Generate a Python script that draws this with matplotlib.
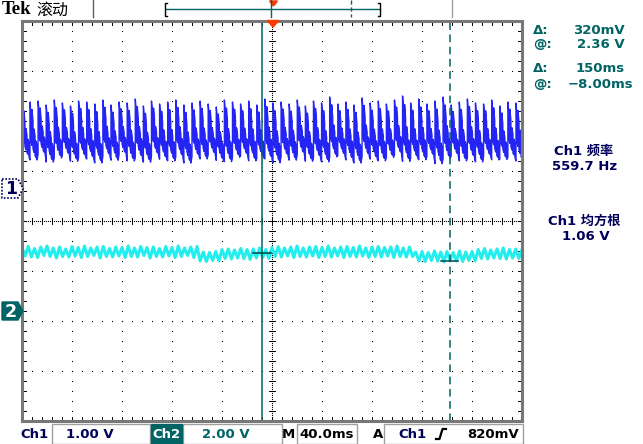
import numpy as np
import matplotlib.pyplot as plt
from matplotlib.patches import Polygon, Rectangle

W, H = 643, 444

# Ch1 (blue): one sawtooth per tooth, peak and floor of each tooth in volts
ch1_peak = [1.70, 1.74, 1.76, 1.68, 1.78, 1.72, 1.66, 1.76, 1.74, 1.70, 1.78, 1.68,
            1.74, 1.72, 1.80, 1.66, 1.76, 1.70, 1.74, 1.78, 1.68, 1.72, 1.76, 1.70,
            1.64, 1.78, 1.74, 1.70, 1.76, 1.68, 1.80, 1.72, 1.74, 1.70, 1.78, 1.66,
            1.76, 1.72, 1.84, 1.70, 1.74, 1.68, 1.82, 1.72, 1.76, 1.70, 1.78, 1.86,
            1.72, 1.80, 1.70, 1.76, 1.84, 1.68, 1.74, 1.80, 1.72, 1.70, 1.78, 1.66,
            1.74, 1.72, 1.70]
ch1_floor = [0.56, 0.48, 0.60, 0.44, 0.52, 0.58, 0.46, 0.54, 0.50, 0.42, 0.56, 0.48,
             0.60, 0.46, 0.52, 0.44, 0.58, 0.50, 0.46, 0.54, 0.42, 0.56, 0.50, 0.60,
             0.48, 0.44, 0.54, 0.58, 0.46, 0.52, 0.50, 0.42, 0.56, 0.48, 0.60, 0.46,
             0.52, 0.44, 0.54, 0.58, 0.48, 0.42, 0.56, 0.50, 0.46, 0.54, 0.60, 0.44,
             0.52, 0.48, 0.56, 0.40, 0.50, 0.58, 0.46, 0.52, 0.44, 0.56, 0.48, 0.50,
             0.54, 0.46, 0.52]
# shape of one tooth: high / low of each screen column, as fraction floor..peak
tooth_hi = [1.00, 0.82, 0.88, 0.69, 0.57, 0.46, 0.38, 0.31]
tooth_lo = [0.08, 0.38, 0.31, 0.26, 0.20, 0.15, 0.12, 0.08]
ch1_period_ms = 6.48
ch1_first_ms = -200.1

# Ch2 (cyan) trace in volts, -200 .. 200 ms
ch2_volts = [2.58, 2.24, 2.62, 2.20, 2.54, 2.18, 2.60, 2.26, 2.64, 2.22, 2.56, 2.16,
             2.60, 2.22, 2.52, 2.20, 2.62, 2.24, 2.58, 2.18, 2.64, 2.22, 2.56, 2.26,
             2.60, 2.16, 2.62, 2.22, 2.54, 2.20, 2.60, 2.24, 2.58, 2.18, 2.64, 2.22,
             2.56, 2.20, 2.62, 2.26, 2.58, 2.16, 2.60, 2.22, 2.54, 2.20, 2.62, 2.24,
             2.58, 2.18, 2.64, 2.22, 2.56, 2.26, 2.60, 2.18, 2.62,
             2.04, 2.40, 2.02, 2.38, 2.06, 2.42, 2.04,
             2.50, 2.14, 2.52, 2.12, 2.48, 2.16, 2.54, 2.14, 2.50, 2.10, 2.52, 2.16,
             2.56, 2.18, 2.50, 2.14,
             2.58, 2.22, 2.62, 2.20, 2.56, 2.24, 2.60, 2.18, 2.64, 2.22, 2.56, 2.20,
             2.60, 2.24, 2.62, 2.18, 2.58, 2.22, 2.64, 2.20, 2.56, 2.24, 2.60, 2.18,
             2.62, 2.22, 2.58, 2.20, 2.64, 2.24, 2.56, 2.18, 2.60, 2.22, 2.62, 2.20,
             2.58, 2.24, 2.60, 2.18, 2.64, 2.22, 2.56, 2.20, 2.60, 2.22,
             2.40, 2.04, 2.42, 2.02, 2.38, 2.06, 2.44, 2.04, 2.40, 2.00, 2.42, 2.06,
             2.38, 2.04, 2.44, 2.02, 2.40, 2.06, 2.42, 2.04,
             2.50, 2.14, 2.54, 2.12, 2.48, 2.16, 2.52, 2.14, 2.56, 2.12, 2.50, 2.16,
             2.52, 2.14, 2.50]

ch1_vdiv, ch1_pos = 1.0, 0.64
ch2_vdiv, ch2_pos = 2.0, -1.82
cursor_t = [-8.0, 142.0]
cursor_v = [2.36, 2.04]

BLUE = "#2424f4"
CYAN = "#22eeee"
TEAL = "#006464"
NAVY = "#00005a"
FRAME = "#787878"

fig = plt.figure(figsize=(W / 100, H / 100), dpi=100)
fig.patch.set_facecolor("white")
ax = fig.add_axes([22 / W, (H - 421) / H, 500 / W, 400 / H])
ax.set_xlim(-200, 200)
ax.set_ylim(-4, 4)
ax.set_xticks([])
ax.set_yticks([])
for sp in ax.spines.values():
    sp.set_color(FRAME)
    sp.set_linewidth(2.2)

# graticule
dot = dict(ls="none", marker="s", ms=0.8, mew=0, color="black")
for gx in np.arange(-160, 200, 40):
    if gx != 0:
        ax.plot(np.full(41, gx), np.linspace(-4, 4, 41), **dot)
for gy in [-3, -2, -1, 1, 2, 3]:
    ax.plot(np.linspace(-200, 200, 51), np.full(51, gy), **dot)
ax.plot(np.zeros(201), np.linspace(-4, 4, 201), **dot)
ax.plot(np.linspace(-200, 200, 251), np.zeros(251), **dot)
for ty in np.linspace(-4, 4, 41):
    ax.plot([-2.4, 2.4], [ty, ty], color="black", lw=0.7)
    ax.plot([-200, -197], [ty, ty], color="black", lw=0.7)
    ax.plot([197, 200], [ty, ty], color="black", lw=0.7)
for tx in np.linspace(-200, 200, 51):
    ax.plot([tx, tx], [-0.06, 0.06], color="black", lw=0.7)
    ax.plot([tx, tx], [-4, -3.92], color="black", lw=0.7)
    ax.plot([tx, tx], [3.92, 4], color="black", lw=0.7)

# Ch2 trace
t2 = np.linspace(-200, 200, len(ch2_volts))
ax.plot(t2, np.array(ch2_volts) / ch2_vdiv + ch2_pos, color=CYAN, lw=2.2)

# Ch1 trace, drawn column by column
xs, ys = [], []
col = ch1_period_ms / len(tooth_hi)
for k, (pk, fl) in enumerate(zip(ch1_peak, ch1_floor)):
    t0 = ch1_first_ms + k * ch1_period_ms
    for j, (h, l) in enumerate(zip(tooth_hi, tooth_lo)):
        a, b = fl + l * (pk - fl), fl + h * (pk - fl)
        if j % 2:
            a, b = b, a
        xs += [t0 + j * col, t0 + j * col]
        ys += [a / ch1_vdiv + ch1_pos, b / ch1_vdiv + ch1_pos]
ax.plot(xs, ys, color=BLUE, lw=1.0)

# cursors
ax.axvline(cursor_t[0], color=TEAL, lw=1.1)
ax.axvline(cursor_t[1], color=TEAL, lw=1.1, dashes=(5, 3))
for t, v in zip(cursor_t, cursor_v):
    y = v / ch2_vdiv + ch2_pos
    ax.plot([t - 7, t + 7], [y, y], color="#004848", lw=1.1)

# overlay in pixel coordinates
ov = fig.add_axes([0, 0, 1, 1])
ov.set_xlim(0, W)
ov.set_ylim(H, 0)
ov.axis("off")

ov.text(2, 10, "Tek", family="Liberation Serif", weight="bold", fontsize=13.5,
        va="center", ha="left")
ov.text(36, 10, "滚动", family="Noto Sans CJK SC", fontsize=11.5, va="center", ha="left")
ov.plot([93, 93], [0, 17], color="#606060", lw=1)
ov.plot([452, 452], [0, 17], color="#a0a0a0", lw=1)
ov.plot([166, 380], [9, 9], color=TEAL, lw=1)
ov.plot([167, 165, 165, 167], [3, 3, 16, 16], color="black", lw=1)
ov.plot([378, 380, 380, 378], [3, 3, 16, 16], color="black", lw=1)
ov.plot([271, 271], [0, 17], color=TEAL, lw=1)
ov.plot([351, 351], [0, 17], color=TEAL, lw=1, dashes=(3, 2))
ov.add_patch(Polygon([(269.5, 1), (277.5, 1), (273.5, 6)], color="#ff3a00"))
ov.add_patch(Polygon([(267, 20.5), (279, 20.5), (273, 27)], color="#ff3a00"))

# channel markers
ov.add_patch(Polygon([(2, 179), (18, 179), (23, 188.5), (18, 198), (2, 198)],
                     facecolor="white", edgecolor=NAVY, lw=1.2, ls=(0, (1, 1))))
ov.text(11, 189, "1", color=NAVY, weight="bold", fontsize=12.5, ha="center", va="center")
ov.add_patch(Polygon([(2, 302), (18, 302), (23, 311), (18, 320), (2, 320)],
                     facecolor=TEAL, edgecolor=TEAL, lw=1))
ov.text(11, 311.5, "2", color="white", weight="bold", fontsize=12.5, ha="center", va="center")

# right panel
rp = dict(weight="bold", fontsize=9.5, va="center")
ov.text(533, 30, "Δ:", color=TEAL, ha="left", **rp)
ov.text(625, 30, "320mV", color=TEAL, ha="right", **rp)
ov.text(533, 45, "@:", color=TEAL, ha="left", **rp)
ov.text(625, 45, "2.36 V", color=TEAL, ha="right", **rp)
ov.text(533, 68, "Δ:", color=TEAL, ha="left", **rp)
ov.text(625, 68, "150ms", color=TEAL, ha="right", **rp)
ov.text(533, 84.5, "@:", color=TEAL, ha="left", **rp)
ov.text(633, 84.5, "−8.00ms", color=TEAL, ha="right", **rp)
cjk = ["DejaVu Sans", "Noto Sans CJK SC"]
ov.text(584, 151, "Ch1 频率", color=NAVY, ha="center", family=cjk, **rp)
ov.text(585, 166, "559.7 Hz", color=NAVY, ha="center", **rp)
ov.text(584, 221, "Ch1 均方根", color=NAVY, ha="center", family=cjk, **rp)
ov.text(586, 236, "1.06 V", color=NAVY, ha="center", **rp)

# bottom status line
by = 434
for x0, x1 in [(52, 150), (183, 282), (297, 357), (384, 523)]:
    ov.add_patch(Rectangle((x0, 424), x1 - x0, 19.5, facecolor="none",
                           edgecolor="#a0a0a0", lw=1))
ov.add_patch(Rectangle((151, 424), 31, 19.5, facecolor=TEAL, edgecolor=TEAL, lw=1))
ov.text(20, by, "Ch1", color=NAVY, ha="left", **rp)
ov.text(90, by, "1.00 V", color=NAVY, ha="center", **rp)
ov.text(166.5, by, "Ch2", color="white", ha="center", **rp)
ov.text(226, by, "2.00 V", color=TEAL, ha="center", **rp)
ov.text(288.5, by, "M", color="black", ha="center", **rp)
ov.text(327, by, "40.0ms", color="black", ha="center", **rp)
ov.text(378, by, "A", color="black", ha="center", **rp)
ov.text(412, by, "Ch1", color=NAVY, ha="center", **rp)
ov.plot([436, 439.5, 442.5, 446], [439, 439, 429, 429], color="black", lw=1.6)
ov.text(493, by, "820mV", color="black", ha="center", **rp)

fig.savefig("out.png", dpi=100)
